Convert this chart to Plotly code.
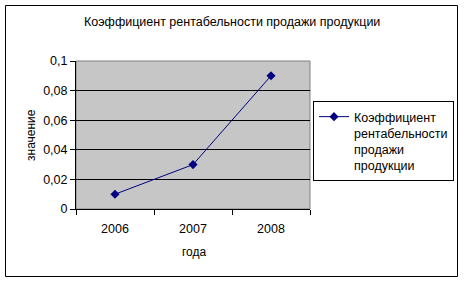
import plotly.graph_objects as go

years = ["2006", "2007", "2008"]
values = [0.01, 0.03, 0.09]
ytick_vals = [0, 0.02, 0.04, 0.06, 0.08, 0.1]
ytick_text = ["0", "0,02", "0,04", "0,06", "0,08", "0,1"]
series_name = "Коэффициент<br>рентабельности<br>продажи<br>продукции"
title = "Коэффициент рентабельности продажи продукции"

W, H = 464, 282
L, R, T, B = 76, 310, 61, 209
pw, ph = R - L, B - T

def px_x(x):
    return (x - L) / pw

def px_y(y):
    return (B - y) / ph

fig = go.Figure()
fig.add_trace(go.Scatter(
    x=years, y=values, mode="lines+markers", name=series_name,
    line=dict(color="#000080", width=1),
    marker=dict(symbol="diamond", size=7, color="#000080"),
))

font = "Liberation Sans, Arial, sans-serif"
fig.update_layout(
    width=W, height=H,
    margin=dict(l=L, r=W - R, t=T, b=H - B, autoexpand=False),
    paper_bgcolor="white",
    plot_bgcolor="#c6c6c6",
    font=dict(family=font, size=12, color="black"),
    showlegend=True,
    legend=dict(
        x=px_x(313), y=px_y(101), xanchor="left", yanchor="top",
        bordercolor="black", borderwidth=1, bgcolor="white",
        font=dict(size=12.5, family=font),
        tracegroupgap=0, itemwidth=30, valign="top",
    ),
    annotations=[
        dict(text=title, x=px_x(232), y=px_y(22), xref="paper", yref="paper",
             showarrow=False, font=dict(size=12.5, family=font), xanchor="center", yanchor="middle"),
        dict(text="значение", x=px_x(31), y=px_y(135), xref="paper", yref="paper",
             showarrow=False, textangle=-90, font=dict(size=12, family=font),
             xanchor="center", yanchor="middle"),
        dict(text="года", x=px_x(194), y=px_y(252), xref="paper", yref="paper",
             showarrow=False, font=dict(size=12, family=font), xanchor="center", yanchor="middle"),
    ],
    shapes=[
        dict(type="rect", xref="paper", yref="paper",
             x0=px_x(5.5), x1=px_x(457.5), y0=px_y(276.5), y1=px_y(5.5),
             line=dict(color="black", width=1), fillcolor="rgba(0,0,0,0)", layer="below"),
        dict(type="rect", xref="paper", yref="paper",
             x0=0, x1=1, y0=0, y1=1,
             line=dict(color="#808080", width=1), fillcolor="rgba(0,0,0,0)", layer="below"),
    ],
)

fig.update_xaxes(
    type="category", range=[-0.5, 2.5], tickson="boundaries", ticks="outside", ticklen=5,
    tickcolor="black", showline=True, linecolor="black", linewidth=1,
    showgrid=False, tickfont=dict(size=12.5, family=font), zeroline=False,
    ticklabelstandoff=8,
)
fig.update_yaxes(
    range=[0, 0.1], tickvals=ytick_vals, ticktext=ytick_text,
    ticks="outside", ticklen=5, tickcolor="black",
    showline=True, linecolor="black", linewidth=1,
    showgrid=True, gridcolor="black", gridwidth=1, zeroline=False,
    tickfont=dict(size=12.5, family=font),
)

fig.write_html("out.html")
